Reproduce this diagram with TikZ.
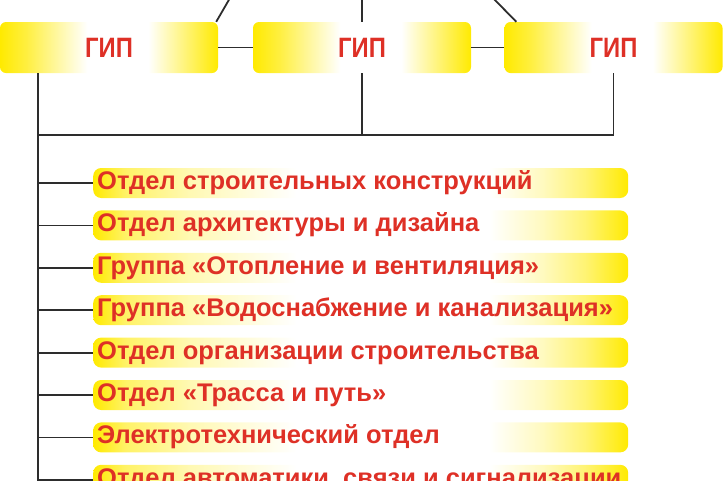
\documentclass[tikz,border=0pt]{standalone}
\usepackage{fontspec}
\setmainfont{Liberation Sans}
\newfontfamily\gipfont[FakeStretch=0.85]{Liberation Sans}
\definecolor{Yel}{RGB}{255,234,0}
\definecolor{Txt}{RGB}{222,48,38}
\definecolor{Lin}{RGB}{45,45,45}
\pgfdeclarehorizontalshading{topshade}{100bp}{color(0bp)=(Yel); color(25bp)=(Yel); color(31bp)=(Yel!75!white); color(45bp)=(white); color(59bp)=(white); color(67bp)=(Yel!50!white); color(75bp)=(Yel); color(100bp)=(Yel)}
\pgfdeclarehorizontalshading{barshade}{100bp}{color(0bp)=(Yel); color(25bp)=(Yel); color(28bp)=(Yel!60!white); color(34bp)=(Yel!30!white); color(44bp)=(white); color(62bp)=(white); color(67bp)=(Yel!25!white); color(71bp)=(Yel!55!white); color(74bp)=(Yel!88!white); color(75bp)=(Yel); color(100bp)=(Yel)}
\tikzset{
  gipbox/.style={rectangle, rounded corners=6pt, shading=topshade, minimum width=218pt, minimum height=51pt, inner sep=0pt, text=Txt, font=\gipfont\bfseries\fontsize{28}{28}\selectfont},
  barbox/.style={rectangle, rounded corners=8pt, shading=barshade, minimum height=30pt, inner xsep=4pt, inner ysep=0pt, text=Txt, text height=18pt, text depth=5pt, font=\bfseries\fontsize{25.5}{26}\selectfont, anchor=west},
  conn/.style={draw=Lin, line width=1.8pt}
}
\begin{document}
\begin{tikzpicture}[x=1pt,y=-1pt]
\clip (0,0) rectangle (724,480);
\node[gipbox] (g1) at (109,47.5) {ГИП};
\node[gipbox] (g2) at (362,47.5) {ГИП};
\node[gipbox] (g3) at (613.5,47.5) {ГИП};
\coordinate (t1) at (230,-2);
\coordinate (t2) at (362,-2);
\coordinate (t3) at (493,-2);
\coordinate (sp) at (38,500);
\coordinate (hb) at (0,135);
\foreach \i/\t in {1/{Отдел строительных конструкций},
                   2/{Отдел архитектуры и дизайна},
                   3/{Группа «Отопление и вентиляция»},
                   4/{Группа «Водоснабжение и канализация»},
                   5/{Отдел организации строительства},
                   6/{Отдел «Трасса и путь»},
                   7/{Электротехнический отдел},
                   8/{Отдел автоматики, связи и сигнализации}}{
  \node[barbox] (r\i) at (93,{183+42.4*(\i-1)}) {\makebox[527pt][l]{\t}};
  \draw[conn] (r\i.west -| sp) -- (r\i.west);
}
\draw[conn] (g1.east) -- (g2.west);
\draw[conn] (g2.east) -- (g3.west);
\draw[conn] ([xshift=-2pt]g1.north east) -- (t1);
\draw[conn] (g2.north) -- (t2);
\draw[conn] ([xshift=12pt]g3.north west) -- (t3);
\draw[conn] (sp |- g1.south) -- (sp);
\draw[conn] (g2.south) -- (g2.south |- hb);
\draw[conn] (g3.south) -- (g3.south |- hb) -- (sp |- hb);
\end{tikzpicture}
\end{document}
